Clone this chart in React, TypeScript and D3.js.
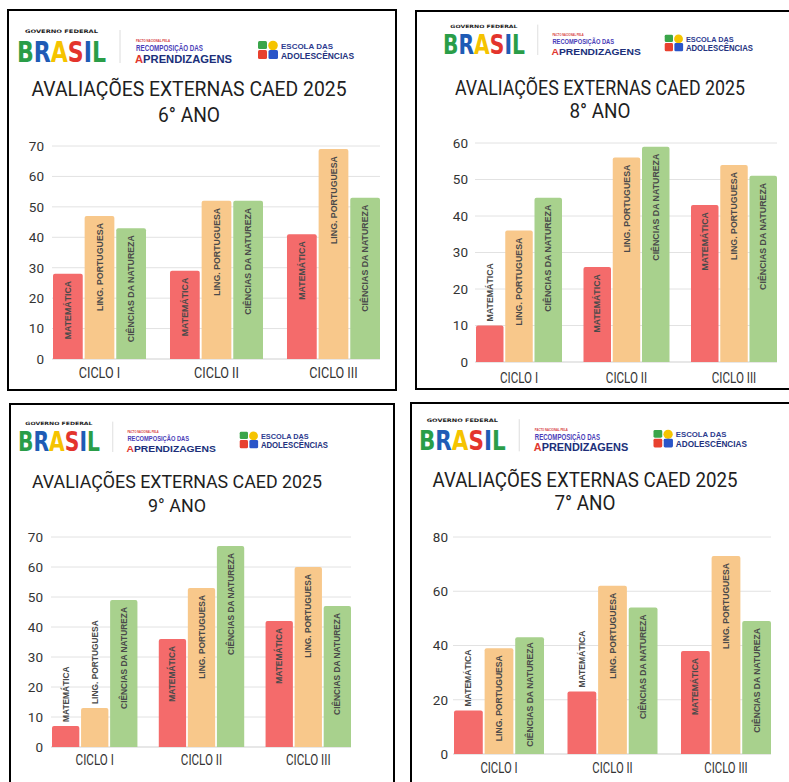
import React from "react";
import * as d3 from "d3";

// ---------- DATA ----------
const cycles = ["CICLO I", "CICLO II", "CICLO III"];
const subjects = ["MATEMÁTICA", "LING. PORTUGUESA", "CIÊNCIAS DA NATUREZA"];
const mainTitle = "AVALIAÇÕES EXTERNAS CAED 2025";

const ano6Mat = [28, 29, 41];
const ano6Lp = [47, 52, 69];
const ano6Cn = [43, 52, 53];

const ano8Mat = [10, 26, 43];
const ano8Lp = [36, 56, 54];
const ano8Cn = [45, 59, 51];

const ano9Mat = [7, 36, 42];
const ano9Lp = [13, 53, 60];
const ano9Cn = [49, 67, 47];

const ano7Mat = [16, 23, 38];
const ano7Lp = [39, 62, 73];
const ano7Cn = [43, 54, 49];

const ticks6 = [0, 10, 20, 30, 40, 50, 60, 70];
const ticks8 = [0, 10, 20, 30, 40, 50, 60];
const ticks9 = [0, 10, 20, 30, 40, 50, 60, 70];
const ticks7 = [0, 20, 40, 60, 80];

// ---------- STYLE / LAYOUT ----------
const subjectColors = ["#f46b6b", "#f8c88b", "#a8d18d"];

const L6 = {
  frame: { x: 8, y: 10, w: 388, h: 380 },
  logo: { x: 17, y: 38, s: 1 },
  title: { cx: 189, b1: 96, b2: 122, w1: 315, w2: 62, fs: 21 },
  plot: { x0: 53, x1: 380, y0: 359, yTop: 146 },
  tickRight: 44, catBase: 378, catFs: 14.5, catSx: 0.87, groupPad: 0.205, labelFs: 8.8,
};
const L8 = {
  frame: { x: 416, y: 11, w: 390, h: 378 },
  logo: { x: 443, y: 32, s: 0.92 },
  title: { cx: 600, b1: 95, b2: 118, w1: 290, w2: 61, fs: 19.5 },
  plot: { x0: 476, x1: 777, y0: 362, yTop: 143 },
  tickRight: 468, catBase: 383, catFs: 14.5, catSx: 0.8, groupPad: 0.2, labelFs: 8.8,
};
const L9 = {
  frame: { x: 10, y: 404, w: 384, h: 400 },
  logo: { x: 18, y: 429, s: 0.92 },
  title: { cx: 177, b1: 488, b2: 512, w1: 290, w2: 58, fs: 19 },
  plot: { x0: 52, x1: 351, y0: 747, yTop: 537 },
  tickRight: 43, catBase: 765, catFs: 14, catSx: 0.83, groupPad: 0.2, labelFs: 8.4,
};
const L7 = {
  frame: { x: 411, y: 403, w: 395, h: 400 },
  logo: { x: 419, y: 427, s: 0.973 },
  title: { cx: 585, b1: 487, b2: 510, w1: 305, w2: 61, fs: 20 },
  plot: { x0: 454, x1: 771, y0: 754, yTop: 537 },
  tickRight: 448, catBase: 773, catFs: 14.5, catSx: 0.78, groupPad: 0.207, labelFs: 8.6,
};

const panels = [
  { sub: "6° ANO", series: [ano6Mat, ano6Lp, ano6Cn], ticks: ticks6, layout: L6 },
  { sub: "8° ANO", series: [ano8Mat, ano8Lp, ano8Cn], ticks: ticks8, layout: L8 },
  { sub: "9° ANO", series: [ano9Mat, ano9Lp, ano9Cn], ticks: ticks9, layout: L9 },
  { sub: "7° ANO", series: [ano7Mat, ano7Lp, ano7Cn], ticks: ticks7, layout: L7 },
];

const brasilStops = [0.189, 0.38, 0.572, 0.75, 0.842, 1];
const brasilColors = ["#2a9d48", "#1f5bb5", "#f5c300", "#e3342c", "#1f5bb5", "#2a9d48"];

let measureCtx: CanvasRenderingContext2D | null = null;
function measure(text: string, fs: number): number {
  try {
    if (!measureCtx) measureCtx = document.createElement("canvas").getContext("2d");
    if (measureCtx) {
      measureCtx.font = `bold ${fs}px "Liberation Sans", Arial, sans-serif`;
      return measureCtx.measureText(text).width;
    }
  } catch (e) {}
  return text.length * fs * 0.66;
}

function topRoundedBar(x: number, y: number, w: number, h: number, r: number) {
  const rr = Math.min(r, h, w / 2);
  return `M${x},${y + h}V${y + rr}Q${x},${y} ${x + rr},${y}H${x + w - rr}Q${x + w},${y} ${x + w},${y + rr}V${y + h}Z`;
}

function Logo({ x, y, s }: { x: number; y: number; s: number }) {
  return (
    <g transform={`translate(${x},${y}) scale(${s}) translate(-17,-38)`}>
      <text x={25} y={33.3} fontFamily="'DejaVu Sans', sans-serif" fontWeight={700} fontSize={4.8}
        fill="#222" textLength={73} lengthAdjust="spacingAndGlyphs">GOVERNO FEDERAL</text>
      <text x={17} y={61.5} fontFamily="'DejaVu Sans', sans-serif" fontWeight={700} fontSize={28}
        fill="url(#brasilGrad)" textLength={89} lengthAdjust="spacingAndGlyphs">BRASIL</text>
      <line x1={120} x2={120} y1={30} y2={63} stroke="#dcdcdc" strokeWidth={1} />
      <text x={136} y={42.2} fontFamily="'Liberation Sans', sans-serif" fontWeight={700} fontSize={4.3}
        fill="#d63a3a" textLength={34} lengthAdjust="spacingAndGlyphs">PACTO NACIONAL PELA</text>
      <text x={136} y={51.3} fontFamily="'Liberation Sans', sans-serif" fontWeight={700} fontSize={8.4}
        fill="#4a3db8" textLength={67} lengthAdjust="spacingAndGlyphs">RECOMPOSIÇÃO DAS</text>
      <text x={135} y={63} fontFamily="'Liberation Sans', sans-serif" fontWeight={700} fontSize={10.5}
        fill="url(#aprendGrad)" textLength={97} lengthAdjust="spacingAndGlyphs">APRENDIZAGENS</text>
      <rect x={258} y={41} width={9} height={8} rx={1.5} fill="#3aa54a" />
      <circle cx={273} cy={45.5} r={4.8} fill="#f5c400" />
      <rect x={258} y={50} width={9} height={9} rx={1.5} fill="#e8412f" />
      <rect x={268.5} y={50} width={9.5} height={9} rx={1.5} fill="#2a55c9" />
      <text x={281} y={48.5} fontFamily="'Liberation Sans', sans-serif" fontWeight={700} fontSize={8}
        fill="#2d3b8f" textLength={52} lengthAdjust="spacingAndGlyphs">ESCOLA DAS</text>
      <text x={281} y={58.8} fontFamily="'Liberation Sans', sans-serif" fontWeight={700} fontSize={9}
        fill="#23327e" textLength={73} lengthAdjust="spacingAndGlyphs">ADOLESCÊNCIAS</text>
    </g>
  );
}

function Panel({ sub, series, ticks, layout }: any) {
  const { frame, logo, title, plot } = layout;
  const yMax = ticks[ticks.length - 1];
  const y = d3.scaleLinear().domain([0, yMax]).range([plot.y0, plot.yTop]);
  const x0 = d3.scaleBand<string>().domain(cycles).range([plot.x0, plot.x1])
    .paddingInner(layout.groupPad).paddingOuter(0);
  const x1 = d3.scaleBand<string>().domain(subjects).range([0, x0.bandwidth()]).padding(0.06).paddingOuter(0);

  return (
    <g>
      <rect x={frame.x} y={frame.y} width={frame.w} height={frame.h} fill="#fff" stroke="#000" strokeWidth={2} />
      <Logo {...logo} />
      <text x={title.cx} y={title.b1} textAnchor="middle" fontFamily="Roboto, sans-serif" fontSize={title.fs}
        fill="#1e1e1e" textLength={title.w1} lengthAdjust="spacingAndGlyphs">{mainTitle}</text>
      <text x={title.cx} y={title.b2} textAnchor="middle" fontFamily="Roboto, sans-serif" fontSize={title.fs}
        fill="#1e1e1e" textLength={title.w2} lengthAdjust="spacingAndGlyphs">{sub}</text>

      {ticks.map((t: number) => (
        <g key={t}>
          <line x1={plot.x0 - 1} x2={plot.x1} y1={y(t)} y2={y(t)} stroke={t === 0 ? "#cfcfcf" : "#e2e2e2"} strokeWidth={1} />
          <text x={layout.tickRight} y={y(t)} dy="0.36em" textAnchor="end" fontFamily="Roboto, sans-serif"
            fontSize={13.5} fill="#333">{t}</text>
        </g>
      ))}

      {cycles.map((c, ci) => (
        <g key={c}>
          {subjects.map((s, si) => {
            const v = series[si][ci];
            const bx = (x0(c) as number) + (x1(s) as number);
            const bw = x1.bandwidth();
            const by = y(v);
            const bh = plot.y0 - by;
            const len = measure(s, layout.labelFs);
            const spare = bh - len;
            const inside = spare >= 6;
            const pad = inside ? Math.min(7, Math.max(2, spare / 2 - 1)) : 4;
            const cx = bx + bw / 2;
            return (
              <g key={s}>
                <path d={topRoundedBar(bx, by, bw, bh, 2)} fill={subjectColors[si]} />
                <text transform={`translate(${cx},${inside ? by + pad : by - pad}) rotate(-90)`}
                  textAnchor={inside ? "end" : "start"} dy="0.36em"
                  fontFamily="'Liberation Sans', Arial, sans-serif" fontWeight={700}
                  fontSize={layout.labelFs} fill="#4a4a4a">{s}</text>
              </g>
            );
          })}
          <text transform={`translate(${(x0(c) as number) + x0.bandwidth() / 2},${layout.catBase}) scale(${layout.catSx},1)`}
            textAnchor="middle" fontFamily="Roboto, sans-serif" fontSize={layout.catFs} fill="#333">{c}</text>
        </g>
      ))}
    </g>
  );
}

export default function App() {
  return (
    <svg width={789} height={782} viewBox="0 0 789 782"
      style={{ position: "absolute", left: 0, top: 0, background: "#fff", display: "block" }}>
      <defs>
        <linearGradient id="brasilGrad" x1="0" x2="1" y1="0" y2="0">
          {brasilStops.map((st, i) => {
            const prev = i === 0 ? 0 : brasilStops[i - 1];
            return (
              <React.Fragment key={i}>
                <stop offset={prev} stopColor={brasilColors[i]} />
                <stop offset={st} stopColor={brasilColors[i]} />
              </React.Fragment>
            );
          })}
        </linearGradient>
        <linearGradient id="aprendGrad" x1="0" x2="1" y1="0" y2="0">
          <stop offset={0} stopColor="#e0372f" />
          <stop offset={0.083} stopColor="#e0372f" />
          <stop offset={0.083} stopColor="#1f2d78" />
          <stop offset={1} stopColor="#1f2d78" />
        </linearGradient>
      </defs>
      <rect x={0} y={0} width={789} height={782} fill="#fff" />
      {panels.map((p, i) => (
        <Panel key={i} {...p} />
      ))}
    </svg>
  );
}
